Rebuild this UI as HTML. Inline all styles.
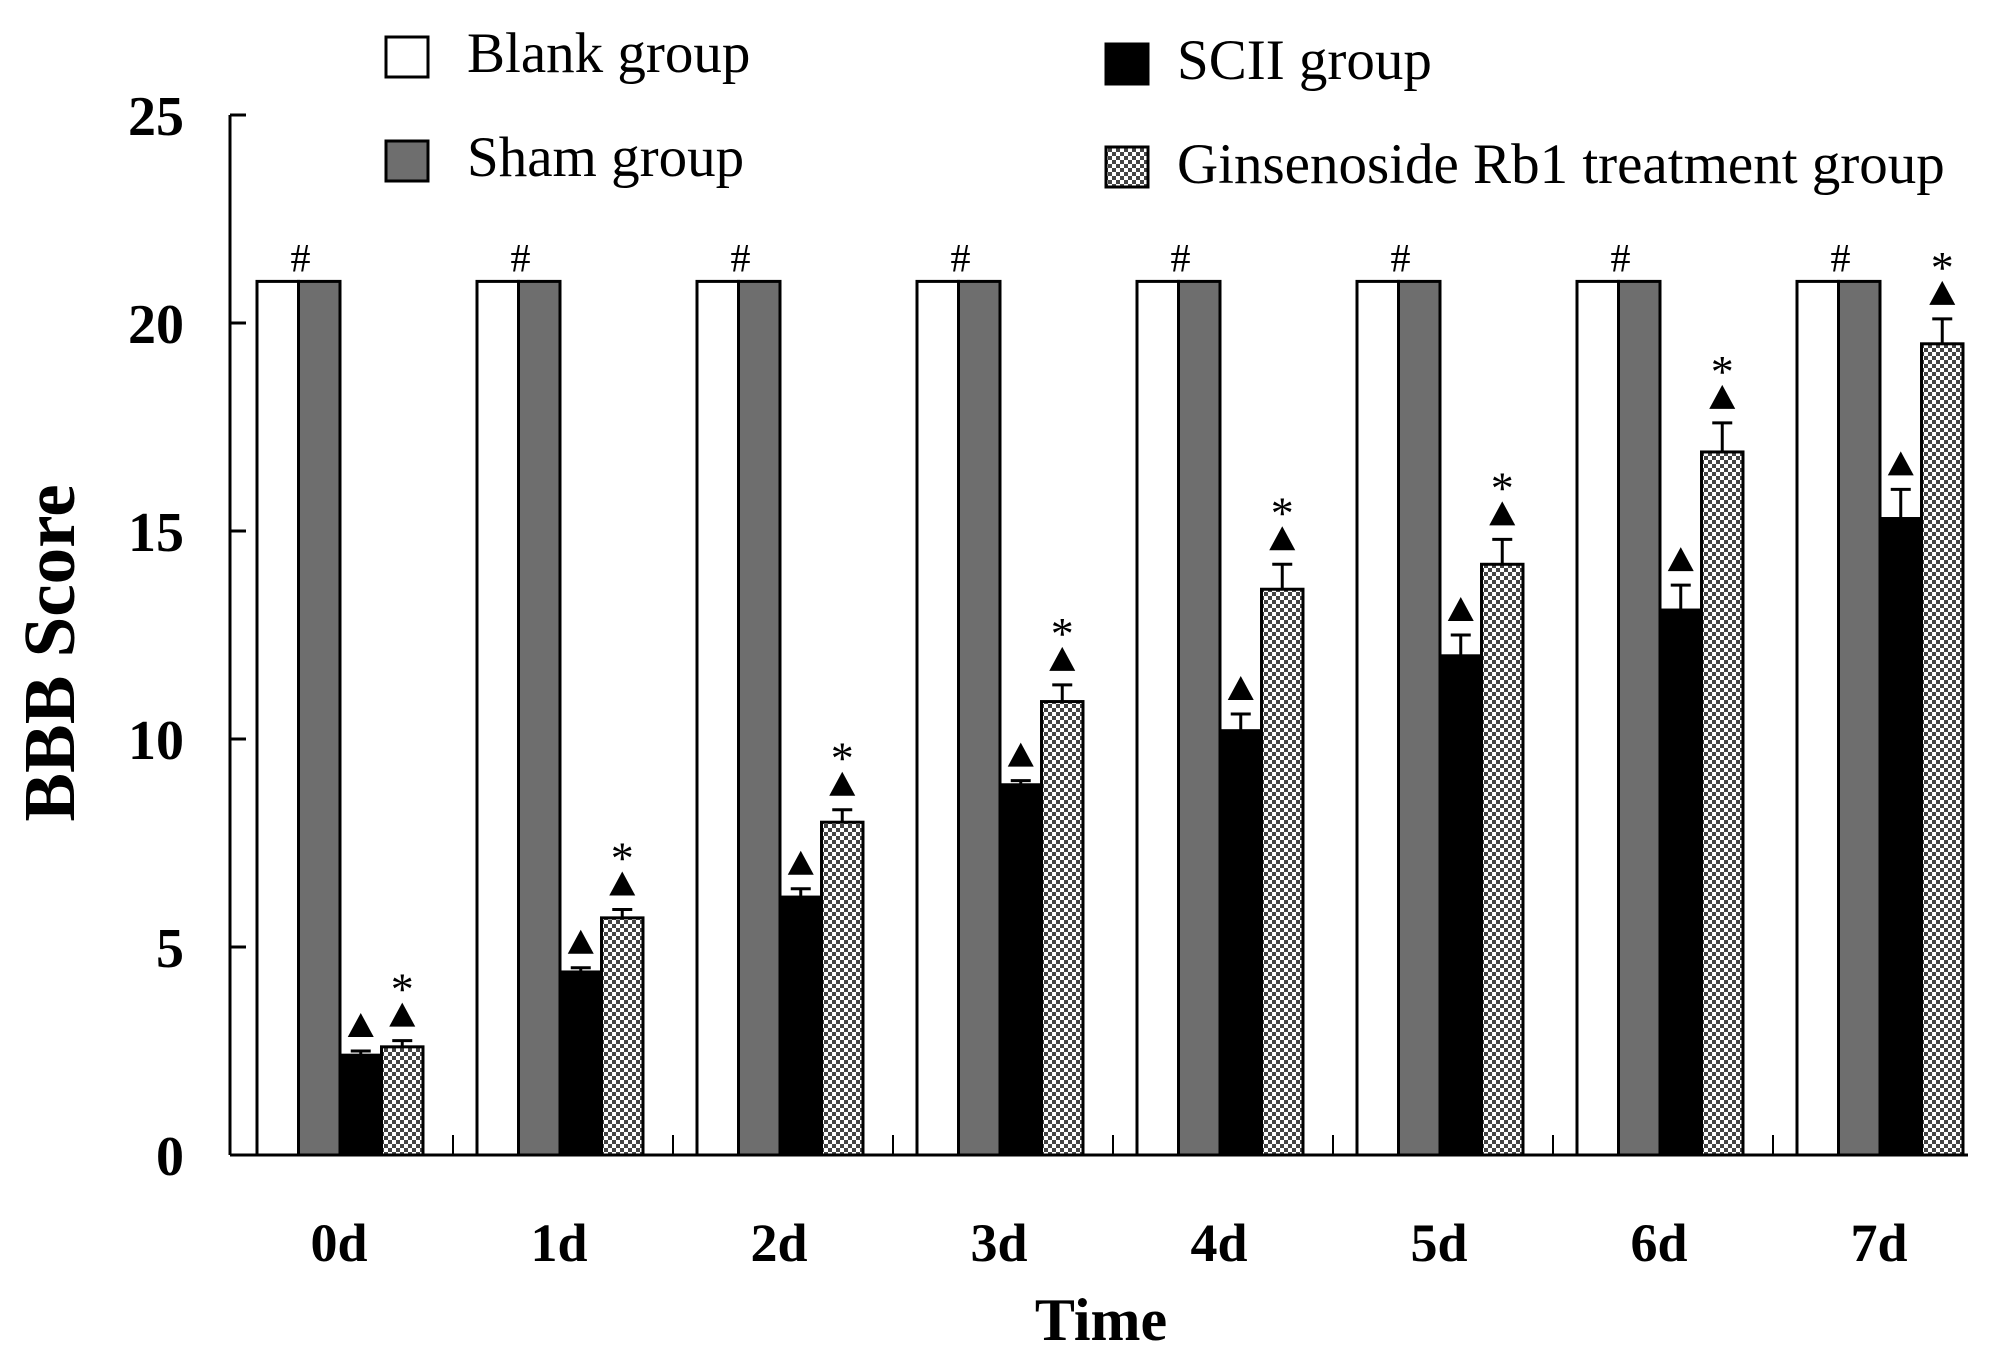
<!DOCTYPE html>
<html><head><meta charset="utf-8">
<style>
html,body{margin:0;padding:0;background:#fff;}
svg{display:block;}
</style></head>
<body>
<svg id="chart" width="2008" height="1357" viewBox="0 0 2008 1357" xmlns="http://www.w3.org/2000/svg" font-family="'Liberation Serif', serif">
<defs>
<pattern id="checker" width="8" height="8" patternUnits="userSpaceOnUse">
<rect width="8" height="8" fill="#fff"/>
<rect x="0" y="0" width="4" height="4" fill="#444"/>
<rect x="4" y="4" width="4" height="4" fill="#444"/>
</pattern>
</defs>
<g id="legend">
<g>
<rect x="386" y="37" width="42" height="40" fill="#fff" stroke="#000" stroke-width="3"/>
<text x="467" y="72" font-size="57">Blank group</text></g>
<g>
<rect x="386" y="141" width="42" height="40" fill="#6e6e6e" stroke="#000" stroke-width="3"/>
<text x="467" y="176" font-size="57">Sham group</text></g>
<g>
<rect x="1106" y="44" width="42" height="40" fill="#000" stroke="#000" stroke-width="3"/>
<text x="1177" y="79" font-size="57">SCII group</text></g>
<g>
<rect x="1106" y="147" width="42" height="40" fill="url(#checker)" stroke="#000" stroke-width="3"/>
<text x="1177" y="183" font-size="57">Ginsenoside Rb1 treatment group</text></g>
</g>
<g id="axes"></g>
<g id="bars"></g>
<text transform="translate(74,653) rotate(-90)" text-anchor="middle" font-size="73" font-weight="bold">BBB Score</text>
<text x="1101" y="1340" text-anchor="middle" font-size="60" font-weight="bold">Time</text>
</svg>
<script>
const categories = ["0d","1d","2d","3d","4d","5d","6d","7d"];
const blankValues = [21,21,21,21,21,21,21,21];
const shamValues = [21,21,21,21,21,21,21,21];
const sciiValues = [2.4,4.4,6.2,8.9,10.2,12.0,13.1,15.3];
const sciiErrors = [0.1,0.1,0.2,0.1,0.4,0.5,0.6,0.7];
const rb1Values = [2.6,5.7,8.0,10.9,13.6,14.2,16.9,19.5];
const rb1Errors = [0.15,0.2,0.3,0.4,0.6,0.6,0.7,0.6];
const yTicks = [0,5,10,15,20,25];

const NS = "http://www.w3.org/2000/svg";
const x0 = 230, yBase = 1155, yTop = 115, yMax = 25;
const groupStart = 257, pitch = 220, bw = 41.5;
function yScale(v){ return yBase - v/yMax*(yBase-yTop); }
function xBar(i,k){ return groupStart + i*pitch + k*bw; }
function mk(tag, attrs, parent){
  const e = document.createElementNS(NS, tag);
  for (const k in attrs) e.setAttribute(k, attrs[k]);
  parent.appendChild(e); return e;
}
const axes = document.getElementById('axes');
const bars = document.getElementById('bars');

const yAxis = mk('line',{x1:x0,y1:yTop,x2:x0,y2:yBase,stroke:'#000','stroke-width':3},axes);


const xAxis = mk('line',{x1:x0,y1:yBase,x2:1968,y2:yBase,stroke:'#000','stroke-width':3},axes);



yTicks.forEach(t=>{
  const y = yScale(t);
  const tk = mk('line',{x1:x0,y1:y,x2:x0+16,y2:y,stroke:'#000','stroke-width':3},axes);
  
  
  const lb = mk('text',{x:184,y:y+20,'text-anchor':'end','font-size':56,'font-weight':'bold'},axes);
  lb.textContent = t;
  
  
});

categories.forEach((c,i)=>{
  const cx = xBar(i,2);
  const lb = mk('text',{x:cx-1,y:1261,'text-anchor':'middle','font-size':54,'font-weight':'bold'},axes);
  lb.textContent = c;
  
  
  if (i < categories.length-1) {
    const mt = mk('line',{x1:xBar(i,4)+30,y1:yBase-20,x2:xBar(i,4)+30,y2:yBase,stroke:'#000','stroke-width':2},axes);
    
    
  }

  const series = [
    {v:blankValues[i], fill:'#fff', name:'bar-blank'},
    {v:shamValues[i], fill:'#6e6e6e', name:'bar-sham'},
    {v:sciiValues[i], fill:'#000', name:'bar-scii', err:sciiErrors[i]},
    {v:rb1Values[i], fill:'url(#checker)', name:'bar-rb1', err:rb1Errors[i]}
  ];
  series.forEach((s,k)=>{
    const x = xBar(i,k), y = yScale(s.v);
    if (s.err !== undefined) {
      const ye = yScale(s.v + s.err);
      const el = mk('line',{x1:x+bw/2,y1:y,x2:x+bw/2,y2:ye,stroke:'#000','stroke-width':3},bars);
      
      
      const cap = mk('line',{x1:x+bw/2-10,y1:ye,x2:x+bw/2+10,y2:ye,stroke:'#000','stroke-width':3},bars);
      
      
      const ty = ye - 14;
      const tri = mk('polygon',{points:`${x+bw/2-13},${ty} ${x+bw/2+13},${ty} ${x+bw/2},${ty-24}`,fill:'#000'},bars);
      
      
      if (k===3) {
        const st = mk('text',{x:x+bw/2,y:ty-22,'text-anchor':'middle','font-size':46},bars);
        st.textContent = '*';
        
        
      }
    }
    const r = mk('rect',{x:x,y:y,width:bw,height:yBase-y,fill:s.fill,stroke:'#000','stroke-width':3},bars);
    
    
  });
  const h = mk('text',{x:xBar(i,1)+2,y:yScale(21)-10,'text-anchor':'middle','font-size':40},bars);
  h.textContent = '#';
  
  
});
</script>
</body></html>
